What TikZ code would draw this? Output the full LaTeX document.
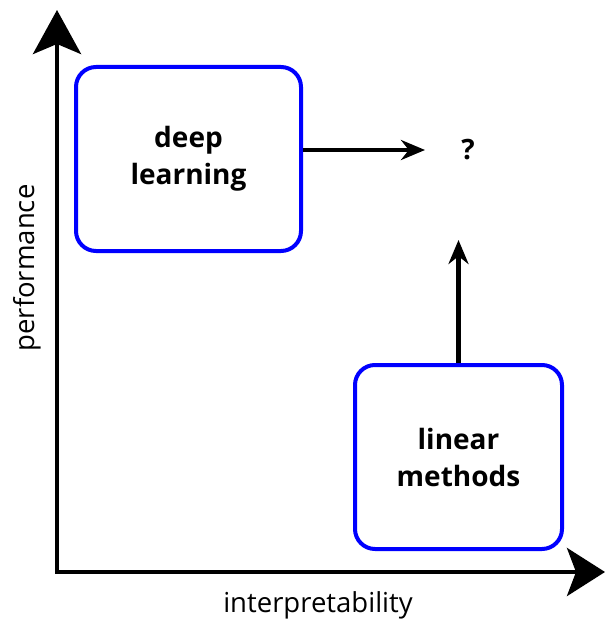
\documentclass[tikz,border=0pt]{standalone}
\usepackage{fontspec}
\setmainfont{Open Sans}
\usetikzlibrary{arrows.meta}

\begin{document}
\begin{tikzpicture}[x=1pt,y=-1pt,>={Stealth[length=24pt,width=20pt]},
  box/.style={rectangle,rounded corners=20pt,draw=blue,line width=4pt,minimum width=225pt,minimum height=184pt,align=center,font=\fontsize{28}{37}\selectfont\bfseries},
  axis/.style={line width=4.5pt,line join=miter,{Stealth[length=44pt,width=48pt,inset=10pt]}-{Stealth[length=38pt,width=48pt,inset=9pt]}},
  label/.style={font=\fontsize{27.5}{32}\selectfont}]
\useasboundingbox (0,0) rectangle (605,620);
\coordinate (ytip) at (57,10);
\coordinate (xtip) at (605,572);
\draw[axis] (ytip) |- (xtip);
\node[box] (deep) at (188.5,159) {deep\\learning};
\node[box,minimum width=207pt] (linear) at (458.5,457) {linear\\methods};
\node[font=\fontsize{28}{37}\selectfont\bfseries] (unknown) at (468,150) {?};
\coordinate (qleft) at (425,150);
\coordinate (target) at (460,240);
\draw[->,line width=4.5pt] ([yshift=9pt]deep.east) -- (qleft);
\draw[->,line width=4.5pt] (linear.north) -- (linear.north |- target);
\node[label,rotate=90] (perf) at (27,268) {performance};
\node[label] (interp) at (318,605) {interpretability};
\end{tikzpicture}
\end{document}
